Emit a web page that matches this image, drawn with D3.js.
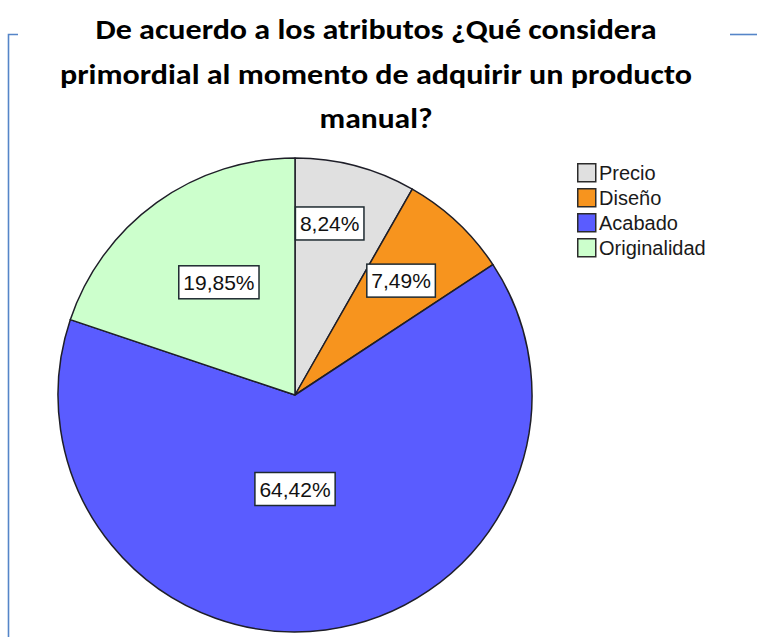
<!DOCTYPE html>
<html>
<head>
<meta charset="utf-8">
<script src="https://cdn.jsdelivr.net/npm/d3@7"></script>
<style>
  html, body { margin: 0; padding: 0; background: #ffffff; }
  svg { display: block; }
</style>
</head>
<body>
<svg id="chart" width="757" height="637"></svg>
<script>
// Survey answers: share of respondents per attribute
const categories = ["Precio", "Diseño", "Acabado", "Originalidad"];
const percentages = [8.24, 7.49, 64.42, 19.85];
const sliceColors = ["#e0e0e0", "#f7941e", "#5a5cff", "#ccffcc"];
const titleLines = [
  "De acuerdo a los atributos ¿Qué considera",
  "primordial al momento de adquirir un producto",
  "manual?"
];

// Layout constants
const W = 757, H = 637;
const cx = 295, cy = 395, radius = 237;
// label placement per slice: radius from centre and angular nudge (degrees)
const labelRadius = [175, 156, 94, 136];
const labelNudge = [-3.4, -0.3, 7.4, 1.7];
const titleBaselines = [39, 84, 128];
const titleWidths = [561, 632, 113];

const svg = d3.select("#chart");

// Frame lines of the surrounding text box
const frameColor = "#5585c8";
svg.append("path")
  .attr("d", `M8.5,${H} L8.5,34.5 L18,34.5`)
  .attr("fill", "none").attr("stroke", frameColor).attr("stroke-width", 1.6);
svg.append("line")
  .attr("x1", 730).attr("x2", W).attr("y1", 34.5).attr("y2", 34.5)
  .attr("stroke", frameColor).attr("stroke-width", 1.6);

// Title
const title = svg.append("g");
titleLines.forEach((t, i) => {
  title.append("text")
    .attr("x", 376).attr("y", titleBaselines[i])
    .attr("text-anchor", "middle")
    .attr("font-family", "Calibri, Carlito, Lato, 'Open Sans', sans-serif")
    .attr("font-weight", "bold")
    .attr("font-size", 28)
    .attr("fill", "#000")
    .attr("textLength", titleWidths[i])
    .attr("lengthAdjust", "spacingAndGlyphs")
    .text(t);
});

// Pie
const data = categories.map((c, i) => ({ cat: c, value: percentages[i], color: sliceColors[i] }));
const pie = d3.pie().value(d => d.value).sort(null);
const arcs = pie(data);
const arc = d3.arc().innerRadius(0).outerRadius(radius);

const g = svg.append("g").attr("transform", `translate(${cx},${cy})`);
g.selectAll("path.slice")
  .data(arcs)
  .join("path")
  .attr("class", "slice")
  .attr("d", arc)
  .attr("fill", d => d.data.color)
  .attr("stroke", "#1e1e28")
  .attr("stroke-width", 1.5)
  .attr("stroke-linejoin", "round");

// Percentage labels in boxes
const fmt = v => v.toFixed(2).replace(".", ",") + "%";
const labels = g.selectAll("g.lab")
  .data(arcs)
  .join("g")
  .attr("class", "lab")
  .attr("transform", (d, i) => {
    const a = (d.startAngle + d.endAngle) / 2 + labelNudge[i] * Math.PI / 180;
    const r = labelRadius[i];
    return `translate(${r * Math.sin(a)},${-r * Math.cos(a)})`;
  });

labels.each(function(d) {
  const sel = d3.select(this);
  const txt = sel.append("text")
    .attr("text-anchor", "middle")
    .attr("dy", "0.36em")
    .attr("font-family", "Arial, 'Liberation Sans', sans-serif")
    .attr("font-size", 21)
    .attr("fill", "#111")
    .text(fmt(d.data.value));
  const w = txt.node().getComputedTextLength() + 9;
  const h = 33;
  sel.insert("rect", "text")
    .attr("x", -w / 2).attr("y", -h / 2)
    .attr("width", w).attr("height", h)
    .attr("fill", "#ffffff")
    .attr("stroke", "#1e2a30")
    .attr("stroke-width", 1.5);
});

// Legend
const legend = svg.append("g").attr("transform", "translate(577,163)");
const rowH = 25;
const items = legend.selectAll("g.item")
  .data(data)
  .join("g")
  .attr("class", "item")
  .attr("transform", (d, i) => `translate(0,${i * rowH})`);
items.append("rect")
  .attr("x", 0.75).attr("y", 0.75)
  .attr("width", 18).attr("height", 18)
  .attr("fill", d => d.color)
  .attr("stroke", "#2b2b2b")
  .attr("stroke-width", 1.5);
items.append("text")
  .attr("x", 22).attr("y", 17)
  .attr("font-family", "Arial, 'Liberation Sans', sans-serif")
  .attr("font-size", 20)
  .attr("fill", "#1a1a1a")
  .text(d => d.cat);
</script>
</body>
</html>
